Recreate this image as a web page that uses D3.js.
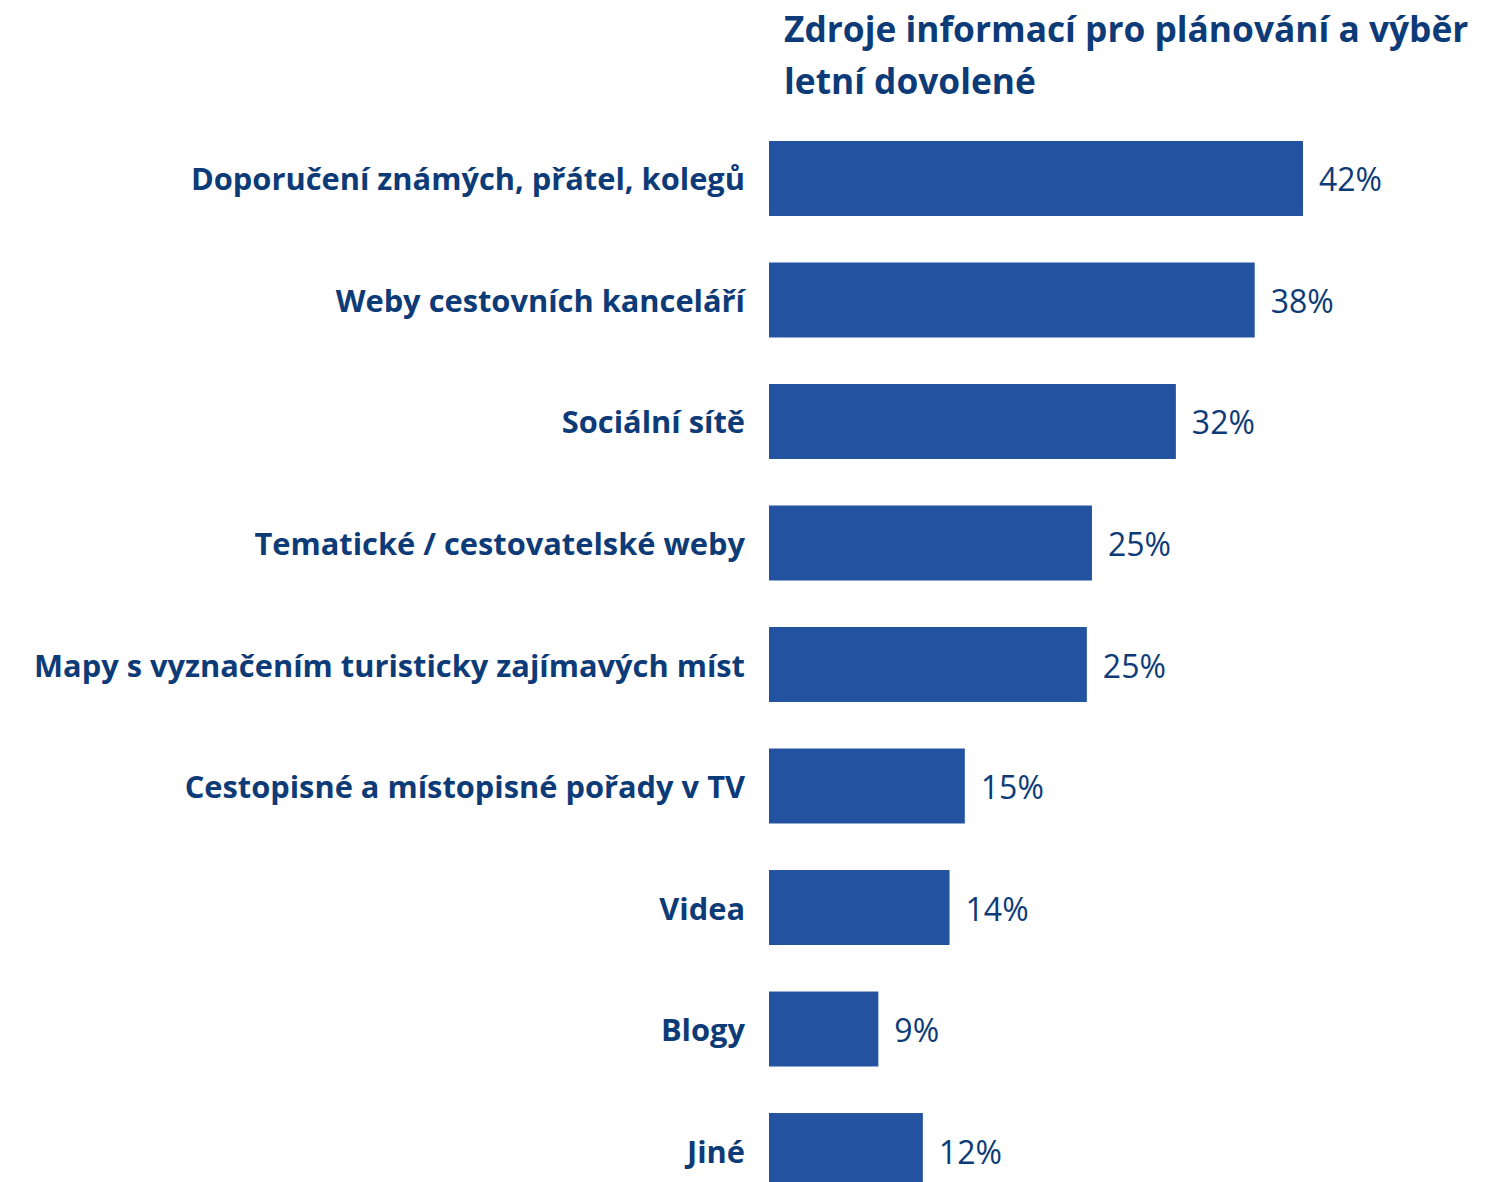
<!DOCTYPE html>
<meta charset="utf-8">
<style>
  body { margin: 0; background: #fff; }
  text { font-family: "Open Sans", Lato, sans-serif; }
</style>
<body>
<script src="https://d3js.org/d3.v7.min.js"></script>
<svg></svg>
<script>
    var width = 1503;
    var height = 1182;

    var categories = [
        "Doporučení známých, přátel, kolegů",
        "Weby cestovních kanceláří",
        "Sociální sítě",
        "Tematické / cestovatelské weby",
        "Mapy s vyznačením turisticky zajímavých míst",
        "Cestopisné a místopisné pořady v TV",
        "Videa",
        "Blogy",
        "Jiné"
    ];
    var values = [42, 38.2, 32, 25.4, 25, 15.4, 14.2, 8.6, 12.1];  // % of respondents
    var valueLabels = ["42%", "38%", "32%", "25%", "25%", "15%", "14%", "9%", "12%"];
    var titleLines = ["Zdroje informací pro plánování a výběr", "letní dovolené"];

    var barColor = "#2252a0";
    var textColor = "#0d3b78";

    var svg = d3.select("svg")
        .attr("width", width)
        .attr("height", height);

    var x = d3.scaleLinear()
        .domain([0, 42])
        .range([769, 1303]);

    var y = d3.scaleBand()
        .domain(categories)
        .range([141, 1188])
        .paddingInner(0.383)
        .paddingOuter(0);

    // title
    svg.append("g").selectAll("text")
        .data(titleLines)
        .enter().append("text")
        .attr("x", 784)
        .attr("y", function(d, i) { return 42 + i * 52; })
        .style("font-size", "35.3px")
        .style("font-weight", "bold")
        .style("fill", textColor)
        .text(function(d) { return d; });

    // bars
    svg.append("g").selectAll("rect")
        .data(values)
        .enter().append("rect")
        .attr("x", x(0))
        .attr("y", function(d, i) { return y(categories[i]); })
        .attr("width", function(d) { return x(d) - x(0); })
        .attr("height", y.bandwidth())
        .style("fill", barColor);

    // category labels
    svg.append("g").selectAll("text")
        .data(categories)
        .enter().append("text")
        .attr("x", 745)
        .attr("y", function(d) { return y(d) + y.bandwidth() / 2 + 12; })
        .attr("text-anchor", "end")
        .style("font-size", "30.8px")
        .style("font-weight", "bold")
        .style("fill", textColor)
        .text(function(d) { return d; });

    // value labels
    svg.append("g").selectAll("text")
        .data(values)
        .enter().append("text")
        .attr("x", function(d) { return x(d) + 16; })
        .attr("y", function(d, i) { return y(categories[i]) + y.bandwidth() / 2 + 13; })
        .style("font-size", "32px")
        .style("fill", textColor)
        .text(function(d, i) { return valueLabels[i]; });
</script>
